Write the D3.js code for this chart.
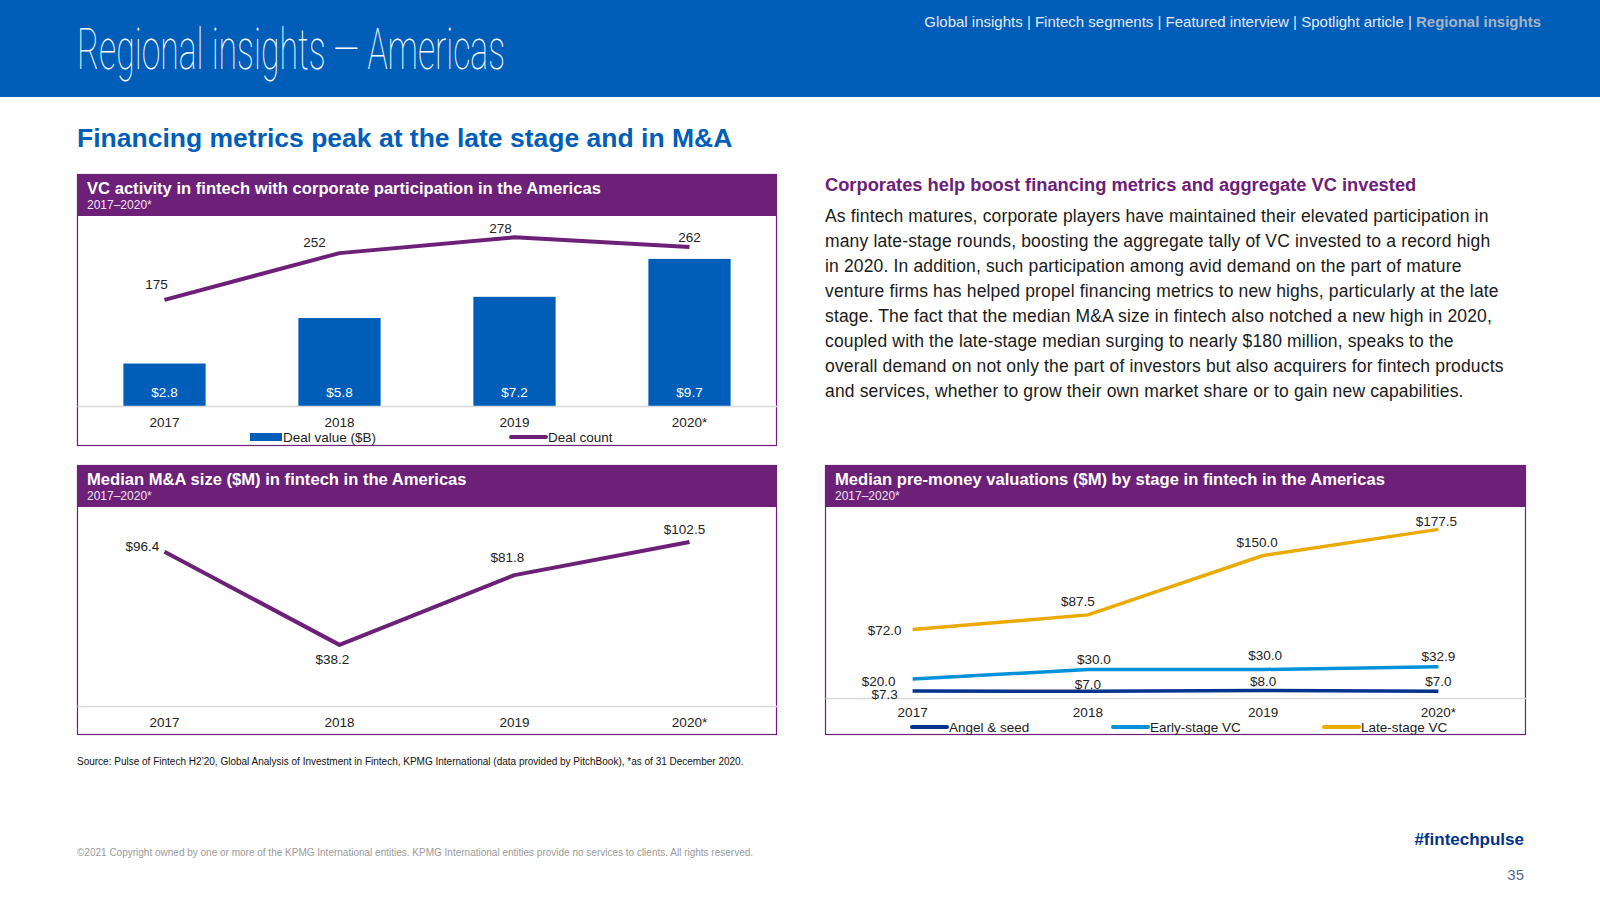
<!DOCTYPE html>
<html>
<head>
<meta charset="utf-8">
<script src="https://cdn.jsdelivr.net/npm/d3@7"></script>
<style>
  body { margin: 0; background: #fff; }
  svg { display: block; font-family: "Liberation Sans", Arial, sans-serif; }
</style>
</head>
<body>
<script>
// chart data
var years = ["2017", "2018", "2019", "2020*"];
var dealValue = [2.8, 5.8, 7.2, 9.7];
var dealCount = [175, 252, 278, 262];
var maSize = [96.4, 38.2, 81.8, 102.5];
var angelSeed = [7.3, 7.0, 8.0, 7.0];
var earlyVC = [20.0, 30.0, 30.0, 32.9];
var lateVC = [72.0, 87.5, 150.0, 177.5];

var navItems = ["Global insights", "Fintech segments", "Featured interview", "Spotlight article"];
var paragraph = [
  "As fintech matures, corporate players have maintained their elevated participation in",
  "many late-stage rounds, boosting the aggregate tally of VC invested to a record high",
  "in 2020. In addition, such participation among avid demand on the part of mature",
  "venture firms has helped propel financing metrics to new highs, particularly at the late",
  "stage. The fact that the median M&A size in fintech also notched a new high in 2020,",
  "coupled with the late-stage median surging to nearly $180 million, speaks to the",
  "overall demand on not only the part of investors but also acquirers for fintech products",
  "and services, whether to grow their own market share or to gain new capabilities."
];

var blue = "#005EB8", purple = "#6D2077", navy = "#00338D", lightBlue = "#0091DA", gold = "#EAAA00";

var svg = d3.select("body").append("svg")
    .attr("width", 1600)
    .attr("height", 900);

// top band
svg.append("rect").attr("x", 0).attr("y", 0).attr("width", 1600).attr("height", 97).attr("fill", blue);
svg.append("text")
    .attr("x", 77).attr("y", 69)
    .attr("font-family", "Roboto, 'Liberation Sans Narrow', sans-serif")
    .attr("font-weight", 100)
    .attr("font-size", 58)
    .attr("textLength", 428)
    .attr("lengthAdjust", "spacingAndGlyphs")
    .attr("fill", "#fff")
    .text("Regional insights \u2014 Americas");

var nav = svg.append("text")
    .attr("x", 1541).attr("y", 27)
    .attr("text-anchor", "end")
    .attr("font-size", 15)
    .attr("fill", "#E3EAF6");
nav.append("tspan").text(navItems.join(" | ") + " | ");
nav.append("tspan").attr("font-weight", "bold").attr("fill", "#A7B3C7").text("Regional insights");

svg.append("text")
    .attr("x", 77).attr("y", 147)
    .attr("font-size", 26.5)
    .attr("font-weight", "bold")
    .attr("fill", blue)
    .text("Financing metrics peak at the late stage and in M&A");

// right commentary
svg.append("text")
    .attr("x", 825).attr("y", 191)
    .attr("font-size", 18.3)
    .attr("font-weight", "bold")
    .attr("fill", purple)
    .text("Corporates help boost financing metrics and aggregate VC invested");

svg.append("g").selectAll("text")
    .data(paragraph)
    .enter()
    .append("text")
    .attr("x", 825)
    .attr("y", function(d, i) { return 222 + i * 25; })
    .attr("font-size", 17.5)
    .attr("letter-spacing", 0.15)
    .attr("fill", "#1a1a1a")
    .text(function(d) { return d; });

// panel frame helper
function panel(x, y, w, h, title, sub) {
    var g = svg.append("g");
    g.append("rect").attr("x", x + 0.5).attr("y", y + 0.5).attr("width", w - 1).attr("height", h - 1)
        .attr("fill", "#fff").attr("stroke", purple).attr("stroke-width", 1.2);
    g.append("rect").attr("x", x).attr("y", y).attr("width", w).attr("height", 42).attr("fill", purple);
    g.append("text").attr("x", x + 10).attr("y", y + 20)
        .attr("font-size", 16.6).attr("font-weight", "bold").attr("fill", "#fff").text(title);
    g.append("text").attr("x", x + 10).attr("y", y + 35)
        .attr("font-size", 12).attr("fill", "#f0e6f2").text(sub);
    return g;
}

function xAxis(g, x, yPos) {
    var ax = g.append("g")
        .attr("transform", "translate(0," + yPos + ")")
        .call(d3.axisBottom(x).tickSize(0).tickPadding(11));
    ax.select(".domain").attr("stroke", "#d9d9d9").attr("stroke-width", 1.5);
    ax.selectAll("text").attr("font-size", 13.5).attr("fill", "#222")
        .attr("font-family", "'Liberation Sans', Arial, sans-serif");
    return ax;
}

function legend(g, items, y) {
    items.forEach(function(it) {
        if (it.type === "bar") {
            g.append("rect").attr("x", it.x).attr("y", y - 4).attr("width", 32).attr("height", 8).attr("fill", it.color);
        } else {
            g.append("line").attr("x1", it.x).attr("x2", it.x + 35).attr("y1", y).attr("y2", y)
                .attr("stroke", it.color).attr("stroke-width", 4).attr("stroke-linecap", "round");
        }
        g.append("text").attr("x", it.x + (it.type === "bar" ? 33 : 37)).attr("y", y + 5)
            .attr("font-size", 13.5).attr("fill", "#222").text(it.label);
    });
}

function labels(g, values, xf, yf, pos, fmt, color) {
    g.append("g").selectAll("text")
        .data(values)
        .enter()
        .append("text")
        .attr("x", function(d, i) { return xf(i) + pos[i][0]; })
        .attr("y", function(d, i) { return yf(d) + pos[i][1]; })
        .attr("text-anchor", "middle")
        .attr("font-size", 13.5)
        .attr("fill", color || "#222")
        .text(fmt);
}

var dollar = function(d) { return "$" + d.toFixed(1); };

// ---------- Panel 1: VC activity ----------
var p1 = panel(77, 174, 700, 272, "VC activity in fintech with corporate participation in the Americas", "2017\u20132020*");
var x1 = d3.scaleBand().domain(years).range([77, 777]);
var yBar = d3.scaleLinear().domain([0, 12]).range([406, 224]);
var yCount = d3.scaleLinear().domain([0, 300]).range([406, 224]);
var bw = x1.bandwidth() * 0.47;
var cx1 = function(i) { return x1(years[i]) + x1.bandwidth() / 2; };

p1.selectAll("rect.bar")
    .data(dealValue)
    .enter()
    .append("rect")
    .attr("class", "bar")
    .attr("x", function(d, i) { return cx1(i) - bw / 2; })
    .attr("y", function(d) { return yBar(d); })
    .attr("width", bw)
    .attr("height", function(d) { return yBar(0) - yBar(d); })
    .attr("fill", blue);

labels(p1, dealValue, cx1, function() { return 397; }, [[0, 0], [0, 0], [0, 0], [0, 0]], dollar, "#fff");

xAxis(p1, x1, 406);

p1.append("path")
    .datum(dealCount)
    .attr("fill", "none")
    .attr("stroke", purple)
    .attr("stroke-width", 4)
    .attr("stroke-linejoin", "round")
    .attr("d", d3.line().x(function(d, i) { return cx1(i); }).y(function(d) { return yCount(d); }));

labels(p1, dealCount, cx1, yCount, [[-8, -11], [-25, -6], [-14, -4], [0, -5]], function(d) { return d; });

legend(p1, [
    { type: "bar", x: 250, color: blue, label: "Deal value ($B)" },
    { type: "line", x: 511, color: purple, label: "Deal count" }
], 437);

// ---------- Panel 2: median M&A ----------
var p2 = panel(77, 465, 700, 270, "Median M&A size ($M) in fintech in the Americas", "2017\u20132020*");
var x2 = d3.scaleBand().domain(years).range([77, 777]);
var y2 = d3.scaleLinear().domain([0, 120]).range([706, 514]);
var cx2 = function(i) { return x2(years[i]) + x2.bandwidth() / 2; };

xAxis(p2, x2, 706);

p2.append("path")
    .datum(maSize)
    .attr("fill", "none")
    .attr("stroke", purple)
    .attr("stroke-width", 4)
    .attr("stroke-linejoin", "round")
    .attr("d", d3.line().x(function(d, i) { return cx2(i); }).y(function(d) { return y2(d); }));

labels(p2, maSize, cx2, y2, [[-22, -1], [-7, 19], [-7, -13], [-5, -8]], dollar);

// ---------- Panel 3: pre-money valuations ----------
var p3 = panel(825, 465, 701, 270, "Median pre-money valuations ($M) by stage in fintech in the Americas", "2017\u20132020*");
var x3 = d3.scaleBand().domain(years).range([825, 1526]);
var y3 = d3.scaleLinear().domain([0, 200]).range([698, 508]);
var cx3 = function(i) { return x3(years[i]) + x3.bandwidth() / 2; };

xAxis(p3, x3, 698).selectAll("text").attr("dy", "0.6em");

var series3 = [
    { name: "Angel & seed", values: angelSeed, color: navy, pos: [[-28, 8], [0, -2], [0, -4], [0, -5]] },
    { name: "Early-stage VC", values: earlyVC, color: lightBlue, pos: [[-34, 7], [6, -6], [2, -10], [0, -6]] },
    { name: "Late-stage VC", values: lateVC, color: gold, pos: [[-28, 5], [-10, -9], [-6, -9], [-2, -3]] }
];

series3.forEach(function(s) {
    p3.append("path")
        .datum(s.values)
        .attr("fill", "none")
        .attr("stroke", s.color)
        .attr("stroke-width", 3.5)
        .attr("stroke-linejoin", "round")
        .attr("d", d3.line().x(function(d, i) { return cx3(i); }).y(function(d) { return y3(d); }));
});

series3.forEach(function(s) {
    labels(p3, s.values, cx3, y3, s.pos, dollar);
});

legend(p3, [
    { type: "line", x: 912, color: navy, label: "Angel & seed" },
    { type: "line", x: 1113, color: lightBlue, label: "Early-stage VC" },
    { type: "line", x: 1324, color: gold, label: "Late-stage VC" }
], 727);

// footer
svg.append("text")
    .attr("x", 77).attr("y", 765)
    .attr("font-size", 10)
    .attr("fill", "#111")
    .text("Source: Pulse of Fintech H2\u201920, Global Analysis of Investment in Fintech, KPMG International (data provided by PitchBook), *as of 31 December 2020.");

svg.append("text")
    .attr("x", 77).attr("y", 856)
    .attr("font-size", 10)
    .attr("fill", "#9a9a9a")
    .text("\u00a92021 Copyright owned by one or more of the KPMG International entities. KPMG International entities provide no services to clients. All rights reserved.");

svg.append("text")
    .attr("x", 1524).attr("y", 845)
    .attr("text-anchor", "end")
    .attr("font-size", 17)
    .attr("font-weight", "bold")
    .attr("fill", navy)
    .text("#fintechpulse");

svg.append("text")
    .attr("x", 1524).attr("y", 880)
    .attr("text-anchor", "end")
    .attr("font-size", 15)
    .attr("fill", "#5a6a95")
    .text("35");
</script>
</body>
</html>
